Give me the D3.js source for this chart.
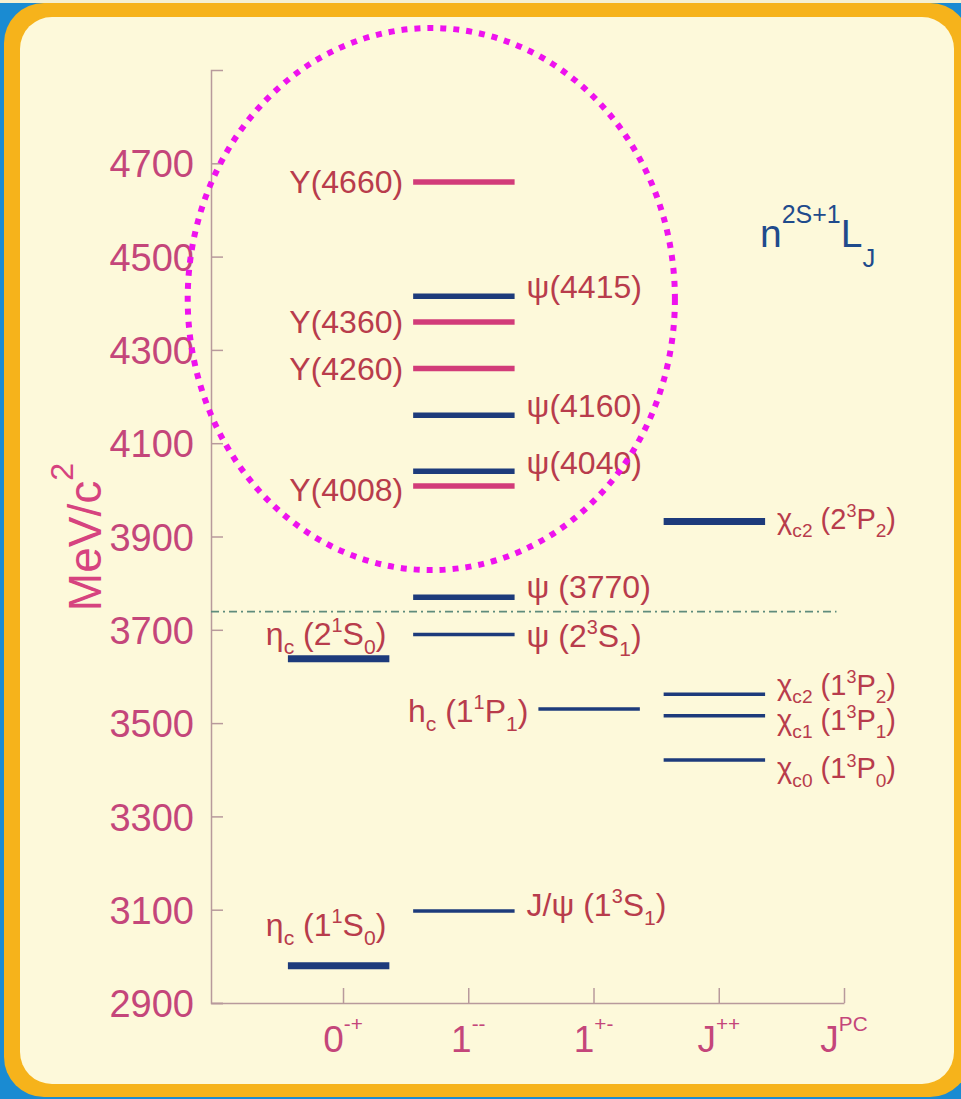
<!DOCTYPE html>
<html>
<head>
<meta charset="utf-8">
<script src="https://cdn.jsdelivr.net/npm/d3@7"></script>
<style>
  html, body { margin: 0; padding: 0; background: #ffffff; }
  svg { display: block; }
  text { font-family: "Liberation Sans", Arial, Helvetica, sans-serif; }
</style>
</head>
<body>
<svg id="chart" width="961" height="1099"></svg>
<script>
// ---- data -------------------------------------------------------------
// J^PC columns (last one is the axis caption)
const jpcColumns = ["0^{-+}", "1^{--}", "1^{+-}", "J^{++}", "J^{PC}"];

// mass axis ticks (MeV/c^2)
const massTicks = [2900, 3100, 3300, 3500, 3700, 3900, 4100, 4300, 4500, 4700];

// charmonium(-like) states: label, mass, J^PC column index, family
const stateNames = [
  "η_{c} (1^{1}S_{0})", "J/ψ (1^{3}S_{1})",
  "η_{c} (2^{1}S_{0})", "ψ (2^{3}S_{1})", "ψ (3770)",
  "h_{c} (1^{1}P_{1})",
  "χ_{c0} (1^{3}P_{0})", "χ_{c1} (1^{3}P_{1})", "χ_{c2} (1^{3}P_{2})", "χ_{c2} (2^{3}P_{2})",
  "ψ(4040)", "ψ(4160)", "ψ(4415)",
  "Y(4008)", "Y(4260)", "Y(4360)", "Y(4660)"
];
const stateMass = [2980, 3097, 3638, 3690, 3770, 3530, 3421, 3516, 3562, 3932,
                   4040, 4160, 4415, 4008, 4260, 4360, 4660];
const stateColumn = [0, 1, 0, 1, 1, 2, 3, 3, 3, 3, 1, 1, 1, 1, 1, 1, 1];
const stateFamily = ["cc", "cc", "cc", "cc", "cc", "cc", "cc", "cc", "cc", "cc",
                     "cc", "cc", "cc", "Y", "Y", "Y", "Y"];

// open-charm (D Dbar) threshold
const ddThreshold = 3739;
const spectroscopicNotation = "n^{2S+1}L_{J}";

// region of the exotic Y states that gets circled: mass range and column range
const exoticMass = [3828, 4990];
const exoticColumns = [-1.24, 2.65];

// ---- styling / layout ------------------------------------------------
const colors = {
  border: "#f6b31b", outer: "#1a8bd2", paper: "#fdf9da",
  axis: "#b89a9c", tick: "#c4467a", title: "#d6437f",
  label: "#b83c4c", cc: "#1d3b7b", Y: "#d23c79",
  threshold: "#5f8c7c", circle: "#ee12ee", notation: "#1f4b8c"
};
const thick = new Set(["η_{c} (1^{1}S_{0})", "η_{c} (2^{1}S_{0})", "χ_{c2} (2^{3}P_{2})"]);
const thin = new Set(["J/ψ (1^{3}S_{1})", "ψ (2^{3}S_{1})", "h_{c} (1^{1}P_{1})",
  "χ_{c0} (1^{3}P_{0})", "χ_{c1} (1^{3}P_{1})", "χ_{c2} (1^{3}P_{2})"]);
// where each label sits relative to its level line, and its size
const labelPlace = {
  "η_{c} (1^{1}S_{0})": ["above", -41, 32], "J/ψ (1^{3}S_{1})": ["right", -7, 32],
  "η_{c} (2^{1}S_{0})": ["above", -25, 32], "ψ (2^{3}S_{1})": ["right", 1, 32],
  "ψ (3770)": ["right", -11, 32], "h_{c} (1^{1}P_{1})": ["left", 1, 32],
  "χ_{c0} (1^{3}P_{0})": ["right", 8, 29], "χ_{c1} (1^{3}P_{1})": ["right", 4, 29],
  "χ_{c2} (1^{3}P_{2})": ["right", -10, 29], "χ_{c2} (2^{3}P_{2})": ["right", -3, 29],
  "ψ(4040)": ["right", -9, 32], "ψ(4160)": ["right", -10, 32], "ψ(4415)": ["right", -10, 32],
  "Y(4008)": ["left", 3, 32], "Y(4260)": ["left", 0, 32], "Y(4360)": ["left", 0, 32],
  "Y(4660)": ["left", 0, 32]
};

const W = 961, H = 1099;
const svg = d3.select("#chart");

// rich text: ^{..} superscript, _{..} subscript
function rich(sel, str, base, opt = {}) {
  const supScale = opt.supScale ?? 0.64, subScale = opt.subScale ?? 0.64;
  const supShift = opt.supShift ?? -0.42, subShift = opt.subShift ?? 0.27;
  const re = /\^\{([^}]*)\}|_\{([^}]*)\}|([^^_]+)/g;
  let m, cur = 0;
  while ((m = re.exec(str))) {
    let txt, off, size;
    if (m[1] !== undefined) { txt = m[1]; off = supShift * base; size = base * supScale; }
    else if (m[2] !== undefined) { txt = m[2]; off = subShift * base; size = base * subScale; }
    else { txt = m[3]; off = 0; size = base; }
    sel.append("tspan").attr("dy", off - cur).attr("font-size", size).text(txt);
    cur = off;
  }
  return sel;
}

// ---- slide frame -------------------------------------------------------
svg.append("rect").attr("width", W).attr("height", H).attr("fill", colors.outer);
svg.append("rect").attr("width", W).attr("height", 3).attr("fill", "#f4f0d2");
svg.append("rect").attr("x", 4).attr("y", 3).attr("width", 966).attr("height", 1094)
  .attr("rx", 40).attr("fill", colors.border);
svg.append("rect").attr("x", 20).attr("y", 17).attr("width", 934).attr("height", 1067)
  .attr("rx", 32).attr("fill", colors.paper);

// ---- scales ------------------------------------------------------------
const y = d3.scaleLinear().domain([2900, 4900]).range([1003, 70]);
const x = d3.scaleLinear().domain([-1.054, 4]).range([211, 844]);
const barFrom = -0.44, barTo = 0.37;

// ---- axes --------------------------------------------------------------
const yAxis = d3.axisLeft(y).tickValues(massTicks).tickFormat(d3.format("d"))
  .tickSizeInner(-12).tickSizeOuter(-12).tickPadding(17);
const gy = svg.append("g").attr("transform", `translate(${x.range()[0]},0)`).call(yAxis);
gy.select(".domain").attr("stroke", colors.axis).attr("stroke-width", 1.5);
gy.selectAll(".tick line").attr("stroke", colors.axis).attr("stroke-width", 1.5);
gy.selectAll(".tick text").attr("fill", colors.tick).attr("font-size", 38)
  .attr("font-family", "Liberation Sans, Arial, sans-serif").attr("dy", "0.36em");

const xAxis = d3.axisBottom(x).tickValues(d3.range(jpcColumns.length))
  .tickSizeInner(-15).tickSizeOuter(0).tickFormat("");
const gx = svg.append("g").attr("transform", `translate(0,${y.range()[0]})`).call(xAxis);
gx.select(".domain").attr("stroke", colors.axis).attr("stroke-width", 1.5);
gx.selectAll(".tick line").attr("stroke", colors.axis).attr("stroke-width", 1.5);

jpcColumns.forEach((c, i) => {
  const t = svg.append("text").attr("x", x(i)).attr("y", 1052)
    .attr("text-anchor", "middle").attr("fill", colors.tick);
  rich(t, c, 37, { supScale: 0.56, supShift: -0.58 });
});

// axis title
const title = svg.append("text")
  .attr("transform", `translate(101,537) rotate(-90)`)
  .attr("text-anchor", "middle").attr("fill", colors.title);
rich(title, "MeV/c^{2}", 46, { supScale: 0.7, supShift: -0.6 });

// ---- D Dbar threshold ---------------------------------------------------
svg.append("line")
  .attr("x1", x(-1.054)).attr("x2", x(3.94))
  .attr("y1", y(ddThreshold)).attr("y2", y(ddThreshold))
  .attr("stroke", colors.threshold).attr("stroke-width", 1.8)
  .attr("stroke-dasharray", "8 4 2 4");

// ---- level lines --------------------------------------------------------
const states = stateNames.map((n, i) => ({
  name: n, mass: stateMass[i], col: stateColumn[i], fam: stateFamily[i]
}));

svg.append("g").selectAll("line").data(states).join("line")
  .attr("x1", d => x(d.col + barFrom)).attr("x2", d => x(d.col + barTo))
  .attr("y1", d => y(d.mass)).attr("y2", d => y(d.mass))
  .attr("stroke", d => colors[d.fam])
  .attr("stroke-width", d => thick.has(d.name) ? 7 : thin.has(d.name) ? 3.5 : 5.5);

// ---- level labels --------------------------------------------------------
states.forEach(d => {
  const [side, dy, size] = labelPlace[d.name];
  const yy = y(d.mass) + dy + 0.36 * size;
  let xx, anchor;
  if (side === "right") { xx = x(d.col + barTo) + 12; anchor = "start"; }
  else if (side === "left") { xx = x(d.col + barFrom) - 10; anchor = "end"; }
  else { xx = x(d.col + barTo) - 3; anchor = "end"; }
  const t = svg.append("text").attr("x", xx).attr("y", yy)
    .attr("text-anchor", anchor).attr("fill", colors.label);
  rich(t, d.name, size, { supScale: 0.62, subScale: 0.66, supShift: -0.4, subShift: 0.28 });
});

// spectroscopic notation
const nt = svg.append("text").attr("x", 760).attr("y", 247).attr("fill", colors.notation);
rich(nt, spectroscopicNotation, 39, { supScale: 0.64, subScale: 0.66, supShift: -0.62, subShift: 0.5 });

// ---- circled exotic region ----------------------------------------------
const cx = (x(exoticColumns[0]) + x(exoticColumns[1])) / 2;
const cy = (y(exoticMass[0]) + y(exoticMass[1])) / 2;
svg.append("ellipse")
  .attr("cx", cx).attr("cy", cy)
  .attr("rx", (x(exoticColumns[1]) - x(exoticColumns[0])) / 2)
  .attr("ry", (y(exoticMass[0]) - y(exoticMass[1])) / 2)
  .attr("fill", "none").attr("stroke", colors.circle)
  .attr("stroke-width", 6).attr("stroke-dasharray", "6 7");
</script>
</body>
</html>
